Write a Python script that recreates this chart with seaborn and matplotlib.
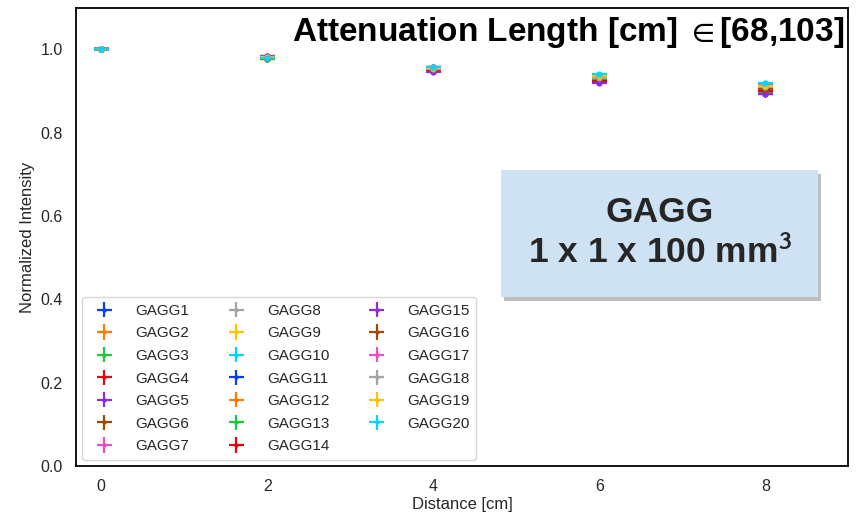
import matplotlib
matplotlib.use("Agg")
import matplotlib.pyplot as plt
import matplotlib.patheffects as pe
import numpy as np
import pandas as pd
import seaborn as sns

# Source-to-readout distance along the crystal
distance = [0, 2, 4, 6, 8]

# Normalized light output per crystal at each distance
gagg1 = [1.0, 0.981, 0.952, 0.928, 0.903]
gagg2 = [1.0, 0.980, 0.955, 0.933, 0.908]
gagg3 = [1.0, 0.979, 0.950, 0.926, 0.899]
gagg4 = [1.0, 0.982, 0.949, 0.927, 0.901]
gagg5 = [1.0, 0.984, 0.948, 0.922, 0.894]
gagg6 = [1.0, 0.978, 0.953, 0.929, 0.905]
gagg7 = [1.0, 0.981, 0.957, 0.935, 0.911]
gagg8 = [1.0, 0.980, 0.954, 0.931, 0.907]
gagg9 = [1.0, 0.979, 0.956, 0.934, 0.910]
gagg10 = [1.0, 0.980, 0.959, 0.939, 0.917]
gagg11 = [1.0, 0.982, 0.951, 0.930, 0.904]
gagg12 = [1.0, 0.981, 0.957, 0.936, 0.913]
gagg13 = [1.0, 0.978, 0.952, 0.926, 0.898]
gagg14 = [1.0, 0.980, 0.950, 0.925, 0.900]
gagg15 = [1.0, 0.985, 0.946, 0.920, 0.892]
gagg16 = [1.0, 0.979, 0.953, 0.932, 0.906]
gagg17 = [1.0, 0.980, 0.958, 0.937, 0.915]
gagg18 = [1.0, 0.981, 0.954, 0.931, 0.909]
gagg19 = [1.0, 0.982, 0.956, 0.936, 0.912]
gagg20 = [1.0, 0.980, 0.958, 0.940, 0.919]

series = [gagg1, gagg2, gagg3, gagg4, gagg5, gagg6, gagg7, gagg8, gagg9, gagg10,
          gagg11, gagg12, gagg13, gagg14, gagg15, gagg16, gagg17, gagg18, gagg19, gagg20]
names = [f"GAGG{i + 1}" for i in range(len(series))]

x_err = 0.09
y_err = 0.004

sns.set_theme(style="white")
plt.rcParams["font.family"] = ["Liberation Sans", "DejaVu Sans"]
plt.rcParams["mathtext.fontset"] = "stixsans"

palette = sns.color_palette("bright", 10)

fig = plt.figure(figsize=(8.56, 5.18), dpi=100)
ax = fig.add_axes([0.089, 0.100, 0.902, 0.885])

for i, (name, vals) in enumerate(zip(names, series)):
    ax.errorbar(distance, vals, xerr=x_err, yerr=y_err, fmt="o", markersize=3.5,
                color=palette[i % 10], elinewidth=1.6, capsize=0, label=name)

ax.set_xlim(-0.3, 9.0)
ax.set_ylim(0, 1.1)
ax.set_xticks([0, 2, 4, 6, 8])
ax.set_yticks([0.0, 0.2, 0.4, 0.6, 0.8, 1.0])
ax.tick_params(labelsize=11.5)
ax.set_xlabel("Distance [cm]", fontsize=12, labelpad=2)
ax.set_ylabel("Normalized Intensity", fontsize=12)

for sp in ax.spines.values():
    sp.set_color("black")
    sp.set_linewidth(1.3)

leg = ax.legend(loc="lower left", ncol=3, fontsize=11, frameon=True,
                columnspacing=2.1, handlelength=2.0, handletextpad=1.0,
                labelspacing=0.56, borderpad=0.45, borderaxespad=0.4,
                markerscale=0.6)

ax.text(0.995, 0.985, "Attenuation Length [cm] $\\in$[68,103]",
        transform=ax.transAxes, ha="right", va="top",
        fontsize=24, fontweight="bold", color="black")

box = ax.text(0.756, 0.508, "GAGG\n1 x 1 x 100 mm$^\\mathbf{3}$",
              transform=ax.transAxes, ha="center", va="center",
              fontsize=25.5, fontweight="bold", linespacing=1.25,
              bbox=dict(boxstyle="square,pad=0.75", facecolor="#cfe2f3",
                        edgecolor="none"))
box.get_bbox_patch().set_path_effects([
    pe.SimplePatchShadow(offset=(2, -3), shadow_rgbFace="gray", alpha=0.5),
    pe.Normal(),
])

fig.savefig("out.png", dpi=100)
